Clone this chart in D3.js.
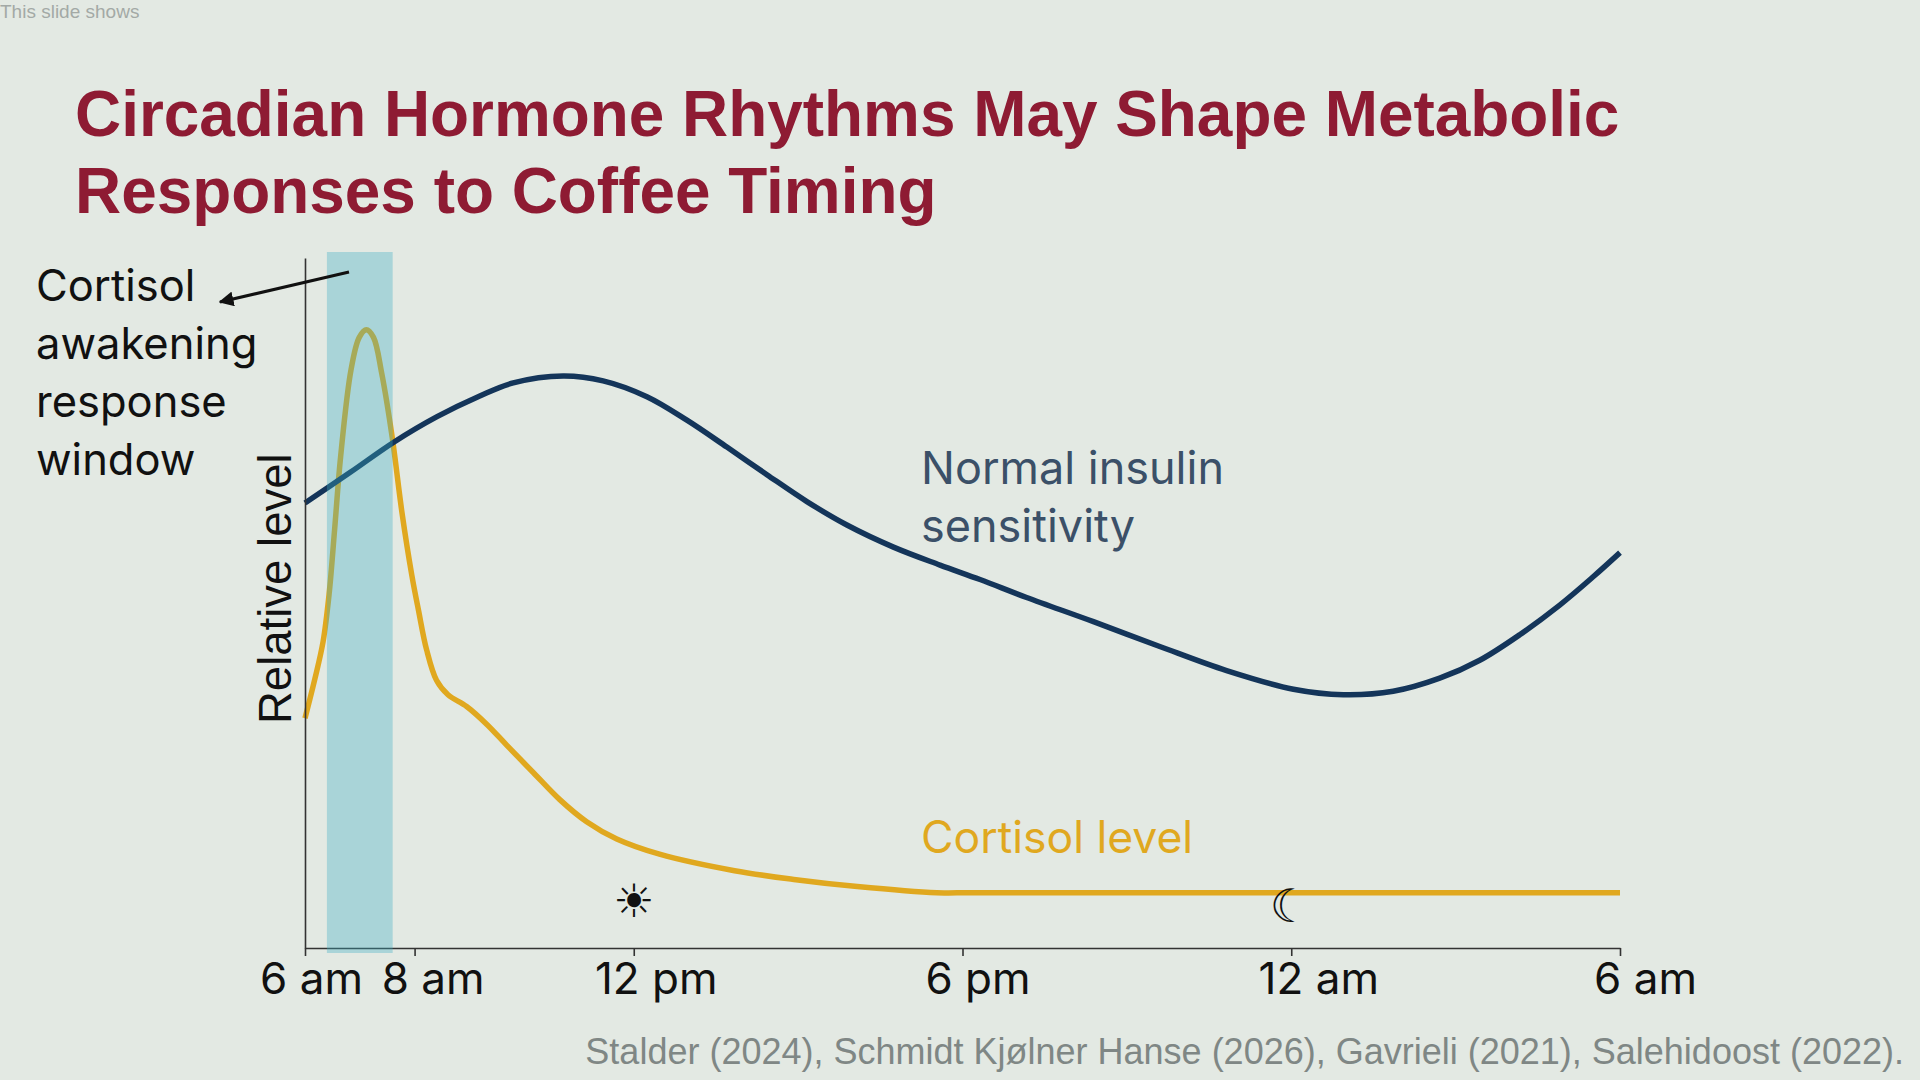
<!DOCTYPE html>
<html>
<head>
<meta charset="utf-8">
<script src="https://cdn.jsdelivr.net/npm/d3@7"></script>
<style>
  html, body { margin: 0; padding: 0; background: #e3e9e3; }
  svg { display: block; }
  .label { font-family: Inter, Roboto, sans-serif; }
  .arial { font-family: "Liberation Sans", Arial, sans-serif; }
</style>
</head>
<body>
<div id="chart"></div>
<script>
// values. hours after 6 am, level as % of the y axis
var insulinHours = [0, 0.82, 1.62, 2.41, 3.19, 3.8, 4.71, 5.44, 6.24, 6.97, 7.7, 8.43, 9.16, 9.89, 10.74, 11.59, 12.32, 13.17, 14.39, 15.6, 16.82, 18.04, 18.95, 19.86, 20.71, 21.44, 22.17, 22.9, 23.51, 24];
var insulinLevel = [64.5, 68.9, 73.3, 77.0, 80.0, 81.9, 82.9, 82.2, 79.9, 76.5, 72.6, 68.6, 64.7, 61.3, 58.1, 55.5, 53.4, 50.8, 47.3, 43.7, 40.2, 37.5, 36.7, 37.2, 39.1, 41.7, 45.4, 49.7, 53.8, 57.3];
var cortisolHours = [0, 0.18, 0.33, 0.44, 0.54, 0.65, 0.84, 0.99, 1.12, 1.25, 1.4, 1.59, 1.77, 1.95, 2.07, 2.22, 2.4, 2.61, 2.95, 3.32, 3.68, 4.17, 4.65, 5.14, 5.69, 6.47, 7.84, 8.96, 10.08, 11.53, 11.9, 14.55, 17.9, 24];
var cortisolLevel = [33.3, 39, 44.4, 51.3, 60.6, 71.2, 83.8, 88.5, 89.6, 88.5, 83.3, 74.1, 63.1, 54, 49, 43.2, 38.8, 36.7, 35, 32.4, 29.4, 25.4, 21.5, 18.3, 15.8, 13.6, 11.2, 9.9, 8.9, 8, 8, 8, 8, 8];
var tickHours = [0, 2, 6, 12, 18, 24];
var tickLabels = ["6 am", "8 am", "12 pm", "6 pm", "12 am", "6 am"];
var awakeningWindow = [0.4, 1.6];

var width = 1920, height = 1080;
var tickNudge = [6, 18, 22, 15, 27, 25];

var svg = d3.select("#chart").append("svg")
    .attr("width", width)
    .attr("height", height);

svg.append("rect").attr("width", width).attr("height", height).attr("fill", "#e3e9e3");

var x = d3.scaleLinear().domain([0, 24]).range([305, 1620]);
var y = d3.scaleLinear().domain([0, 100]).range([948, 258]);

// title and slide text
svg.append("text").attr("class", "arial").attr("x", 0).attr("y", 18)
    .attr("font-size", 19).attr("fill", "#a3a9a6").text("This slide shows");

var titleLines = ["Circadian Hormone Rhythms May Shape Metabolic", "Responses to Coffee Timing"];
svg.selectAll(".title").data(titleLines).join("text")
    .attr("class", "title arial")
    .attr("x", 75)
    .attr("y", (d, i) => 136 + i * 77)
    .attr("font-size", 63.9)
    .attr("font-weight", "bold")
    .attr("fill", "#8e1b33")
    .text(d => d);

// lines go under the band so it tints them
var line = d3.line().x(d => x(d[0])).y(d => y(d[1])).curve(d3.curveCatmullRom.alpha(0.5));

svg.append("path")
    .datum(d3.zip(cortisolHours, cortisolLevel))
    .attr("d", line)
    .attr("fill", "none")
    .attr("stroke", "#e0a81f")
    .attr("stroke-width", 5.5);

svg.append("path")
    .datum(d3.zip(insulinHours, insulinLevel))
    .attr("d", line)
    .attr("fill", "none")
    .attr("stroke", "#14355a")
    .attr("stroke-width", 5.5);

// axes
var xAxis = d3.axisBottom(x)
    .tickValues(tickHours)
    .tickSize(8)
    .tickSizeOuter(0)
    .tickFormat((d, i) => tickLabels[i]);

var gx = svg.append("g")
    .attr("transform", "translate(0," + y(0) + ")")
    .call(xAxis);
gx.select(".domain").attr("stroke", "#333").attr("stroke-width", 1.6);
gx.selectAll(".tick line").attr("stroke", "#333").attr("stroke-width", 1.6);
gx.selectAll(".tick text")
    .attr("class", "label")
    .attr("font-size", 44)
    .attr("fill", "#111")
    .attr("y", 46)
    .attr("dy", 0)
    .attr("dx", (d, i) => tickNudge[i]);

var yAxis = d3.axisLeft(y).tickValues([]).tickSize(0);
var gy = svg.append("g").attr("transform", "translate(" + x(0) + ",0)").call(yAxis);
gy.select(".domain").attr("stroke", "#333").attr("stroke-width", 1.6);

svg.append("text")
    .attr("class", "arial")
    .attr("transform", "translate(291,724) rotate(-90)")
    .attr("font-size", 45.5)
    .attr("fill", "#111")
    .text("Relative level");

// awakening window
svg.append("rect")
    .attr("x", x(awakeningWindow[0]))
    .attr("width", x(awakeningWindow[1]) - x(awakeningWindow[0]))
    .attr("y", 252)
    .attr("height", 701)
    .attr("fill", "rgb(60,174,194)")
    .attr("fill-opacity", 0.35);

// annotation
var windowLines = ["Cortisol", "awakening", "response", "window"];
svg.selectAll(".windowLabel").data(windowLines).join("text")
    .attr("class", "windowLabel label")
    .attr("x", 36)
    .attr("y", (d, i) => 301 + i * 58)
    .attr("font-size", 43.5)
    .attr("fill", "#111")
    .text(d => d);

svg.append("defs").append("marker")
    .attr("id", "head")
    .attr("viewBox", "0 0 10 10")
    .attr("refX", 9).attr("refY", 5)
    .attr("markerWidth", 5).attr("markerHeight", 5)
    .attr("orient", "auto")
    .append("path").attr("d", "M0,0L10,5L0,10z").attr("fill", "#111");

svg.append("line")
    .attr("x1", 349).attr("y1", 272)
    .attr("x2", 220).attr("y2", 302)
    .attr("stroke", "#111").attr("stroke-width", 3)
    .attr("marker-end", "url(#head)");

var insulinLines = ["Normal insulin", "sensitivity"];
svg.selectAll(".insulinLabel").data(insulinLines).join("text")
    .attr("class", "insulinLabel label")
    .attr("x", 921)
    .attr("y", (d, i) => 484 + i * 58)
    .attr("font-size", 45)
    .attr("fill", "#3b5068")
    .text(d => d);

svg.append("text").attr("class", "label")
    .attr("x", 921).attr("y", 853)
    .attr("font-size", 44.5)
    .attr("fill", "#e0a81f")
    .text("Cortisol level");

// sun and moon
svg.append("text")
    .attr("x", x(6)).attr("y", 901)
    .attr("text-anchor", "middle").attr("dominant-baseline", "central")
    .attr("font-family", "DejaVu Sans").attr("font-size", 46).attr("fill", "#111")
    .text("\u2600");

svg.append("text")
    .attr("x", x(18) - 1).attr("y", 906)
    .attr("text-anchor", "middle").attr("dominant-baseline", "central")
    .attr("font-family", "DejaVu Sans").attr("font-size", 46).attr("fill", "#111")
    .text("\u263E");

svg.append("text").attr("class", "arial")
    .attr("x", 1904).attr("y", 1064)
    .attr("text-anchor", "end")
    .attr("font-size", 36)
    .attr("fill", "#7f8785")
    .text("Stalder (2024), Schmidt Kjølner Hanse (2026), Gavrieli (2021), Salehidoost (2022).");
</script>
</body>
</html>
